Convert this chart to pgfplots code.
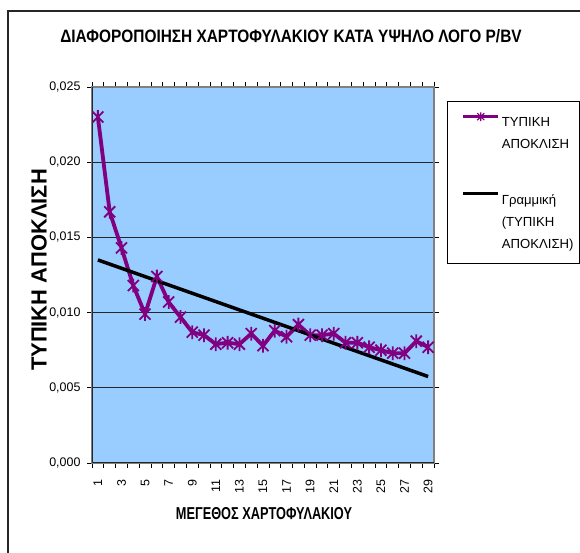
\documentclass[border=0pt]{standalone}
\usepackage{fontspec}
\setmainfont{Liberation Sans}
\newfontfamily\titlefont[FakeStretch=0.86]{Liberation Sans Bold}
\newfontfamily\xlabfont[FakeStretch=0.74]{Liberation Sans Bold}
\usepackage{pgfplots}
\pgfplotsset{compat=1.18}
\definecolor{plotbg}{HTML}{99CCFF}
\definecolor{serpurple}{HTML}{800080}
\pgfdeclareplotmark{xstar}{%
  \pgfpathmoveto{\pgfqpoint{-\pgfplotmarksize}{-\pgfplotmarksize}}%
  \pgfpathlineto{\pgfqpoint{\pgfplotmarksize}{\pgfplotmarksize}}%
  \pgfpathmoveto{\pgfqpoint{-\pgfplotmarksize}{\pgfplotmarksize}}%
  \pgfpathlineto{\pgfqpoint{\pgfplotmarksize}{-\pgfplotmarksize}}%
  \pgfpathmoveto{\pgfqpoint{0pt}{-1.25\pgfplotmarksize}}%
  \pgfpathlineto{\pgfqpoint{0pt}{1.25\pgfplotmarksize}}%
  \pgfusepathqstroke}
\pgfplotstableread{
x y
1 0.0230
2 0.0167
3 0.0143
4 0.0118
5 0.0099
6 0.0124
7 0.0107
8 0.0097
9 0.0087
10 0.0085
11 0.0079
12 0.0080
13 0.0079
14 0.0086
15 0.0078
16 0.0088
17 0.0084
18 0.0092
19 0.0085
20 0.0085
21 0.0086
22 0.0080
23 0.0080
24 0.0077
25 0.0075
26 0.0073
27 0.0073
28 0.0081
29 0.0077
}\stddata
\begin{document}
\begin{tikzpicture}[x=1bp,y=1bp]
\useasboundingbox (0,0) rectangle (580,553);
\draw[line width=1.3bp, black!85] (8,0) -- (8,542) -- (580,542);
\node[font=\titlefont\fontsize{18}{20}\selectfont] at (291,517) {ΔΙΑΦΟΡΟΠΟΙΗΣΗ ΧΑΡΤΟΦΥΛΑΚΙΟΥ ΚΑΤΑ ΥΨΗΛΟ ΛΟΓΟ P/BV};
\node[font=\bfseries\fontsize{22}{24}\selectfont, rotate=90] at (39,283) {ΤΥΠΙΚΗ ΑΠΟΚΛΙΣΗ};
\node[font=\xlabfont\fontsize{17.3}{19}\selectfont] at (264,39) {ΜΕΓΕΘΟΣ ΧΑΡΤΟΦΥΛΑΚΙΟΥ};
\begin{axis}[
  at={(92bp,90bp)}, anchor=south west,
  scale only axis, width=342bp, height=376bp,
  xmin=0.5, xmax=29.5, ymin=0, ymax=0.025,
  axis background/.style={fill=plotbg},
  axis line style={draw=black!50, line width=1.3bp},
  ytick={0,0.005,0.01,0.015,0.02,0.025},
  ymajorgrids, grid style={black!85, line width=0.9bp},
  tick align=outside, major tick length=5bp,
  tick style={black, line width=0.8bp},
  /pgf/number format/assume math mode=true,
  yticklabel style={/pgf/number format/fixed, /pgf/number format/fixed zerofill, /pgf/number format/precision=3, /pgf/number format/use comma, xshift=-3bp},
  scaled y ticks=false,
  xtick={0.5,1.5,...,29.5}, xticklabel=\empty,
  extra x ticks={1,3,...,29},
  extra x tick style={major tick length=0pt, grid=none},
  extra x tick labels={1,3,5,7,9,11,13,15,17,19,21,23,25,27,29},
  xticklabel style={rotate=90, anchor=east, xshift=-13bp},
  ticklabel style={font=\fontsize{12.5}{14}\selectfont},
  legend style={at={(1.038,0.963)}, anchor=north west, draw=black, line width=0.8bp, fill=white,
    font=\fontsize{13.2}{22.5}\selectfont, inner xsep=4bp, inner ysep=11bp, row sep=38bp, column sep=0pt,
    cells={align=left, anchor=north west, inner xsep=0pt, inner ysep=0pt}},
]
\addplot[serpurple, line width=3.8bp, mark=xstar, mark size=5.5bp,
  mark options={line width=1.8bp},
  legend image code/.code={\path (-10bp,0); \draw[line width=3bp] (0bp,-2bp) -- (35bp,-2bp); \draw[mark size=3.5bp, mark options={line width=1.2bp}] plot coordinates {(17.5bp,-2bp)};}]
  table[x=x, y=y] {\stddata};
\addlegendentry{ΤΥΠΙΚΗ\\ΑΠΟΚΛΙΣΗ}
\addplot[black, line width=3.5bp, no marks,
  legend image code/.code={\path (-10bp,0); \draw[line width=3bp] (0bp,-2bp) -- (35bp,-2bp);}]
  coordinates {(1,0.0135) (29,0.00575)};
\addlegendentry{Γραμμική\\(ΤΥΠΙΚΗ\\ΑΠΟΚΛΙΣΗ)}
\draw[black!85, line width=1.3bp] (rel axis cs:0,1) -- (rel axis cs:0,0) -- (rel axis cs:1,0);
\end{axis}
\end{tikzpicture}
\end{document}
